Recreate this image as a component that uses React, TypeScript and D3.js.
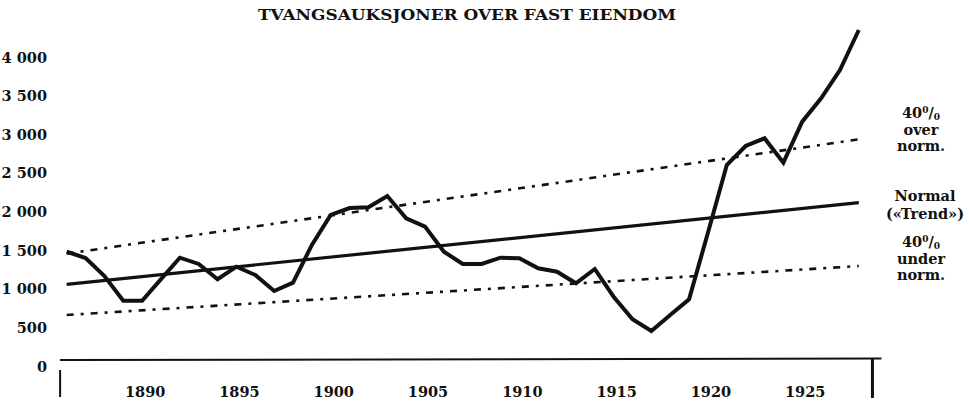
import React from "react";
import * as d3 from "d3";

const years = [
  1886, 1887, 1888, 1889, 1890, 1891, 1892, 1893, 1894, 1895,
  1896, 1897, 1898, 1899, 1900, 1901, 1902, 1903, 1904, 1905,
  1906, 1907, 1908, 1909, 1910, 1911, 1912, 1913, 1914, 1915,
  1916, 1917, 1918, 1919, 1920, 1921, 1922, 1923, 1924, 1925,
  1926, 1927, 1928,
];
// tvangsauksjoner pr. år
const sales = [
  1415, 1333, 1100, 780, 780, 1060, 1337, 1256, 1058, 1221,
  1113, 906, 1014, 1502, 1890, 1980, 1990, 2136, 1847, 1739,
  1415, 1256, 1256, 1337, 1329, 1200, 1156, 1006, 1191, 832,
  540, 388, 595, 799, 1660, 2537, 2783, 2883, 2567, 3098,
  3401, 3767, 4285,
];
const trendYears = [1886, 1928];
const trendValues = [993, 2049];
const bandFactors = [1.4, 0.6];

const yTicks = [0, 500, 1000, 1500, 2000, 2500, 3000, 3500, 4000];
const xTicks = [1890, 1895, 1900, 1905, 1910, 1915, 1920, 1925];
const axisYears = [1885.65, 1929.2];
const title = "TVANGSAUKSJONER OVER FAST EIENDOM";

const width = 972;
const height = 401;
const font = "'DejaVu Serif', 'Liberation Serif', serif";
const fs = 14.5;

const fmt = (v: number) => (v >= 1000 ? d3.format(",")(v).replace(",", " ") : String(v));

export default function App() {
  const x = d3.scaleLinear().domain([1886, 1928]).range([66.7, 858.8]);
  const y = d3.scaleLinear().domain([0, 4000]).range([361, 52]);

  const line = d3
    .line<number>()
    .x((_, i) => x(years[i]))
    .y((d) => y(d));

  const trendLine = (f: number) =>
    d3
      .line<number>()
      .x((_, i) => x(trendYears[i]))
      .y((d) => y(d * f))(trendValues);

  // "40 0/0" block with two words below
  const pct = (cy: number, words: string[]) => (
    <g fontFamily={font} fontWeight="bold" fontSize={fs} fill="#111" textAnchor="middle">
      <text x={921} y={cy}>
        40<tspan fontSize={9} dy="-5">0</tspan>
        <tspan dy="5">/</tspan>
        <tspan fontSize={9} dy="2">0</tspan>
      </text>
      {words.map((w, i) => (
        <text key={w} x={921} y={cy + 16.5 * (i + 1)}>
          {w}
        </text>
      ))}
    </g>
  );

  const tEnd = trendValues[1];

  return (
    <svg
      width={width}
      height={height}
      style={{ position: "absolute", left: 0, top: 0, background: "#fff" }}
    >
      <text x={467} y={20} textAnchor="middle" fontFamily={font} fontWeight="bold" fontSize={14.5} fill="#111" textLength={418} lengthAdjust="spacingAndGlyphs">
        {title}
      </text>

      {/* y labels */}
      {yTicks.map((t) => (
        <text key={t} x={47} y={y(t) + 5.5} dy="0.35em" textAnchor="end" fontFamily={font} fontWeight="bold" fontSize={fs} fill="#111">
          {fmt(t)}
        </text>
      ))}

      {/* x axis */}
      <line x1={x(axisYears[0])} x2={x(axisYears[1])} y1={y(0) - 1} y2={y(0) - 2.5} stroke="#111" strokeWidth={2} />
      <line x1={x(axisYears[0])} x2={x(axisYears[0])} y1={370} y2={397} stroke="#111" strokeWidth={2} />
      <line x1={x(axisYears[1]) - 9} x2={x(axisYears[1]) - 9} y1={358} y2={398} stroke="#111" strokeWidth={3} />
      {xTicks.map((t) => (
        <text key={t} x={x(t) + 3} y={392} dy="0.35em" textAnchor="middle" fontFamily={font} fontWeight="bold" fontSize={fs} fill="#111">
          {t}
        </text>
      ))}

      {/* trend and bands */}
      <path d={trendLine(1) ?? ""} fill="none" stroke="#111" strokeWidth={3.2} />
      {bandFactors.map((f) => (
        <path key={f} d={trendLine(f) ?? ""} fill="none" stroke="#111" strokeWidth={2.6} strokeDasharray="7 7 3 7" />
      ))}

      {/* series */}
      <path d={line(sales) ?? ""} fill="none" stroke="#111" strokeWidth={4} strokeLinejoin="miter" />

      {/* right labels */}
      {pct(y(tEnd * bandFactors[0]) - 21, ["over", "norm."])}
      <text x={925} y={y(tEnd) - 7} dy="0.35em" textAnchor="middle" fontFamily={font} fontWeight="bold" fontSize={fs} fill="#111">
        Normal
      </text>
      <text x={925} y={y(tEnd) + 11} dy="0.35em" textAnchor="middle" fontFamily={font} fontWeight="bold" fontSize={fs} fill="#111">
        («Trend»)
      </text>
      {pct(y(tEnd * bandFactors[1]) - 19, ["under", "norm."])}
    </svg>
  );
}
